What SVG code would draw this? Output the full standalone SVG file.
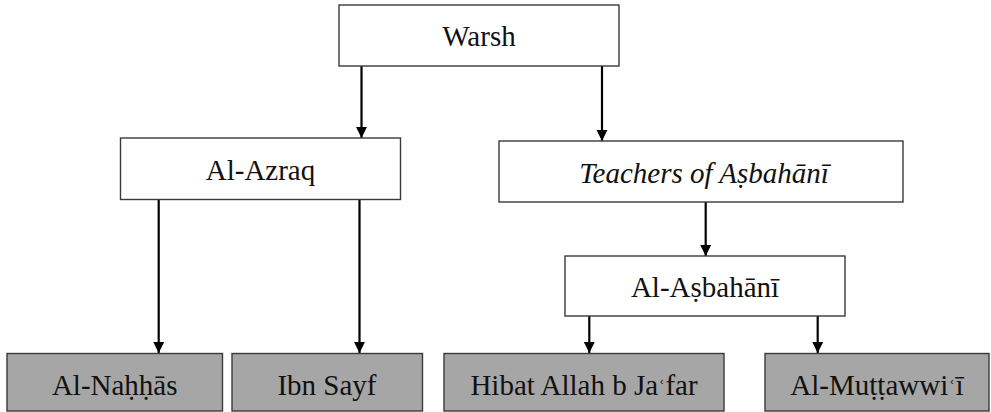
<svg xmlns="http://www.w3.org/2000/svg" width="991" height="412" viewBox="0 0 991 412">
  <style>
    .box { fill: #ffffff; stroke: #3a3a3a; stroke-width: 1.4; }
    .leaf { fill: #a6a6a6; stroke: #3a3a3a; stroke-width: 1.4; }
    .label { font-family: 'Liberation Serif', Tinos, 'Times New Roman', 'DejaVu Serif', serif; font-size: 29px; fill: #111111; text-anchor: middle; }
    .italic { font-style: italic; }
    .ayn { font-size: 22px; }
    .link { stroke: #000000; stroke-width: 2.2; fill: none; marker-end: url(#head); }
  </style>
  <defs>
    <marker id="head" markerUnits="userSpaceOnUse" markerWidth="12" markerHeight="12" viewBox="0 0 10 11" refX="10" refY="5.5" orient="auto">
      <path d="M0,0.5 L10,5.5 L0,10.5 Z" fill="#000000"/>
    </marker>
  </defs>

  <rect width="991" height="412" fill="#ffffff"/>

  <!-- connectors -->
  <g id="connectors">
    <line class="link" x1="361.5" y1="66" x2="361.5" y2="138"/>
    <line class="link" x1="602" y1="66" x2="602" y2="141"/>
    <line class="link" x1="158.7" y1="199.5" x2="158.7" y2="353"/>
    <line class="link" x1="359.5" y1="199.5" x2="359.5" y2="353"/>
    <line class="link" x1="705.7" y1="202" x2="705.7" y2="256"/>
    <line class="link" x1="589.3" y1="316" x2="589.3" y2="353"/>
    <line class="link" x1="817.7" y1="316" x2="817.7" y2="353"/>
  </g>

  <!-- nodes -->
  <g id="warsh">
    <rect class="box" x="339" y="5" width="280" height="61"/>
    <text class="label" x="479" y="46">Warsh</text>
  </g>
  <g id="al-azraq">
    <rect class="box" x="120.5" y="138" width="280" height="61.5"/>
    <text class="label" x="260.5" y="180">Al-Azraq</text>
  </g>
  <g id="teachers">
    <rect class="box" x="499" y="141" width="404" height="61"/>
    <text class="label italic" x="704" y="183">Teachers of Aṣbahānī</text>
  </g>
  <g id="al-asbahani">
    <rect class="box" x="565" y="256" width="280" height="60"/>
    <text class="label" x="705" y="297">Al-Aṣbahānī</text>
  </g>
  <g id="al-nahhas">
    <rect class="leaf" x="7" y="353.5" width="215.5" height="57.5"/>
    <text class="label" x="114.7" y="395">Al-Naḥḥās</text>
  </g>
  <g id="ibn-sayf">
    <rect class="leaf" x="232" y="353.5" width="190.5" height="57.5"/>
    <text class="label" x="327" y="395">Ibn Sayf</text>
  </g>
  <g id="hibat-allah">
    <rect class="leaf" x="444" y="353.5" width="280" height="57.5"/>
    <text class="label" x="584" y="395">Hibat Allah b Ja<tspan class="ayn">ʿ</tspan>far</text>
  </g>
  <g id="al-muttawwii">
    <rect class="leaf" x="765" y="353.5" width="224" height="57.5"/>
    <text class="label" x="877" y="395">Al-Muṭṭawwi<tspan class="ayn">ʿ</tspan>ī</text>
  </g>
</svg>
